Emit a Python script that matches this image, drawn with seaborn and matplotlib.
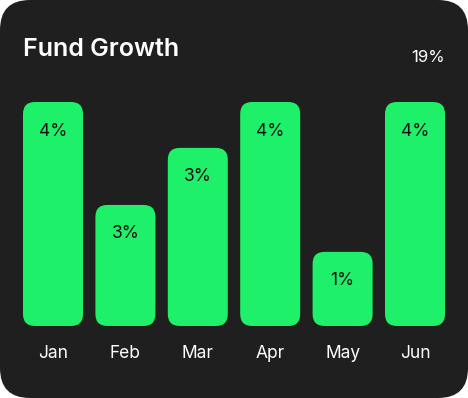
import matplotlib
matplotlib.use("Agg")
import matplotlib.pyplot as plt
import seaborn as sns
import pandas as pd
from matplotlib.patches import FancyBboxPatch

# =========================
# DATA
# =========================
months = ["Jan", "Feb", "Mar", "Apr", "May", "Jun"]
growth = [4.2, 2.27, 3.34, 4.2, 1.39, 4.2]
bar_labels = ["4%", "3%", "3%", "4%", "1%", "4%"]
total_label = "19%"

BG = "#1f1f1f"
GREEN = "#1ef06a"

sns.set_style("white")
plt.rcParams["font.family"] = ["Inter", "DejaVu Sans"]

W, H = 468, 398
fig = plt.figure(figsize=(W / 100, H / 100), dpi=100)
fig.patch.set_facecolor("white")

# rounded dark card, behind everything
card = FancyBboxPatch((0, 0), 1, 1, boxstyle="round,pad=0,rounding_size=0.064",
                      mutation_aspect=W / H, transform=fig.transFigure,
                      facecolor=BG, edgecolor="none", zorder=-10)
fig.patches.append(card)

# axes placed so bars land on the reference pixels
x0, x1 = 23, 445
y_bot, y_top = 326, 102
ax = fig.add_axes([x0 / W, (H - y_bot) / H, (x1 - x0) / W, (y_bot - y_top) / H])
ax.set_facecolor("none")

df = pd.DataFrame({"month": months, "growth": growth})
bw = 60 / ((x1 - x0) / 5.829)
sns.barplot(data=df, x="month", y="growth", color=GREEN, width=bw, ax=ax,
            saturation=1)

half = bw / 2
ax.set_xlim(-half, len(months) - 1 + half)
ax.set_ylim(0, max(growth))

# swap plain bars for rounded ones
px_x = (x1 - x0) / (len(months) - 1 + bw)
px_y = (y_bot - y_top) / max(growth)
r = 12 / px_x
for p in list(ax.patches):
    bx, by, bwid, bh = p.get_x(), p.get_y(), p.get_width(), p.get_height()
    p.remove()
    ax.add_patch(FancyBboxPatch((bx, by), bwid, bh,
                                boxstyle=f"round,pad=0,rounding_size={r}",
                                mutation_aspect=px_x / px_y,
                                facecolor=GREEN, edgecolor="none",
                                clip_on=False))

for i, (v, lab) in enumerate(zip(growth, bar_labels)):
    ax.text(i, v - 29 / px_y, lab, ha="center", va="center",
            fontsize=12.5, color="#111111")

ax.set_xlabel("")
ax.set_ylabel("")
ax.set_yticks([])
ax.set_xticks(range(len(months)))
ax.set_xticklabels(months, color="white", fontsize=12.5)
ax.tick_params(axis="x", length=0, pad=14)
sns.despine(ax=ax, left=True, bottom=True)

fig.text(23 / W, 1 - 49 / H, "Fund Growth", ha="left", va="center",
         fontsize=18, fontweight="semibold", color="white")
fig.text(445 / W, 1 - 57 / H, total_label, ha="right", va="center",
         fontsize=12, color="white")

fig.savefig("out.png", dpi=100, facecolor=fig.get_facecolor())
